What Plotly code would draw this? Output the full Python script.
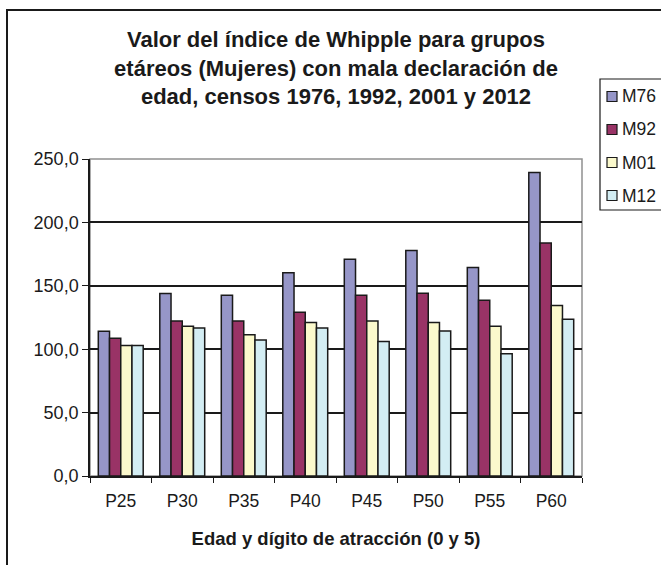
import plotly.graph_objects as go

categories = ["P25", "P30", "P35", "P40", "P45", "P50", "P55", "P60"]
m76 = [114.2, 143.9, 142.6, 160.2, 171.0, 177.8, 164.4, 239.4]
m92 = [108.7, 122.3, 122.3, 129.2, 142.6, 144.2, 138.7, 183.7]
m01 = [102.9, 118.1, 111.3, 121.0, 122.3, 121.0, 118.1, 134.4]
m12 = [102.9, 116.8, 107.3, 116.8, 106.0, 114.4, 96.5, 123.7]
series_names = ["M76", "M92", "M01", "M12"]
colors = ["#9696C8", "#993366", "#FBF9CC", "#D3EDF3"]
y_ticks = [0, 50, 100, 150, 200, 250]

FONT = "Liberation Sans, Arial, sans-serif"
W, H = 661, 565
ML, MR, MT, MB = 90, 79, 159, 89
PW, PH = W - ML - MR, H - MT - MB


def px(x):
    return (x - ML) / PW


def py(y):
    return (H - MB - y) / PH


fig = go.Figure()
for name, vals, col in zip(series_names, [m76, m92, m01, m12], colors):
    fig.add_trace(go.Bar(
        x=categories, y=vals, name=name, showlegend=False,
        marker=dict(color=col, line=dict(color="#1a1a1a", width=1.5)),
    ))

shapes = [
    dict(type="rect", xref="paper", yref="paper", x0=0, x1=1, y0=0, y1=1,
         line=dict(color="#909090", width=1.5), layer="below"),
    dict(type="rect", xref="paper", yref="paper", x0=px(7), x1=px(W + 10), y0=py(H + 10), y1=py(10),
         line=dict(color="#1a1a1a", width=2)),
    # legend box
    dict(type="rect", xref="paper", yref="paper", x0=px(600), x1=px(W + 5), y0=py(210), y1=py(79),
         line=dict(color="#1a1a1a", width=1.2), fillcolor="white"),
]
annotations = []
for i, (name, col) in enumerate(zip(series_names, colors)):
    yc = 96.5 + 33 * i
    shapes.append(dict(type="rect", xref="paper", yref="paper",
                       x0=px(607), x1=px(617), y0=py(yc + 5), y1=py(yc - 5),
                       line=dict(color="#1a1a1a", width=1.2), fillcolor=col))
    annotations.append(dict(xref="paper", yref="paper", x=px(620), y=py(yc),
                            xanchor="left", yanchor="middle", showarrow=False,
                            text=name, font=dict(family=FONT, size=17.5, color="#1a1a1a")))

fig.update_layout(
    width=W, height=H,
    margin=dict(l=ML, r=MR, t=MT, b=MB, autoexpand=False),
    paper_bgcolor="white", plot_bgcolor="white",
    font=dict(family=FONT, size=17, color="#1a1a1a"),
    separators=",.",
    barmode="group", bargap=0.27, bargroupgap=0,
    showlegend=False,
    title=dict(
        text="<b>Valor del índice de Whipple para grupos<br>etáreos (Mujeres) con mala declaración de<br>edad, censos 1976, 1992, 2001 y 2012</b>",
        x=0.5, xref="paper", yref="container", y=1 - 47 / H, yanchor="top", xanchor="center",
        font=dict(family=FONT, size=22, color="#1a1a1a"),
    ),
    xaxis=dict(
        showline=True, linecolor="#1a1a1a", linewidth=1.5,
        ticks="outside", tickson="boundaries", ticklen=5, tickcolor="#1a1a1a",
        tickfont=dict(size=17.5), ticklabelstandoff=8,
        title=dict(text="<b>Edad y dígito de atracción (0 y 5)</b>", font=dict(size=18.5), standoff=22),
        showgrid=False,
    ),
    yaxis=dict(
        range=[0, 250], tickvals=y_ticks, tickformat=".1f",
        showline=True, linecolor="#1a1a1a", linewidth=1.5,
        ticks="outside", ticklen=6, tickcolor="#1a1a1a",
        showgrid=True, gridcolor="#1a1a1a", gridwidth=1.5,
        zeroline=False, tickfont=dict(size=18),
    ),
    shapes=shapes,
    annotations=annotations,
)

fig.write_html("out.html", config={"displayModeBar": False},
               post_script="document.body.style.margin='0';")
